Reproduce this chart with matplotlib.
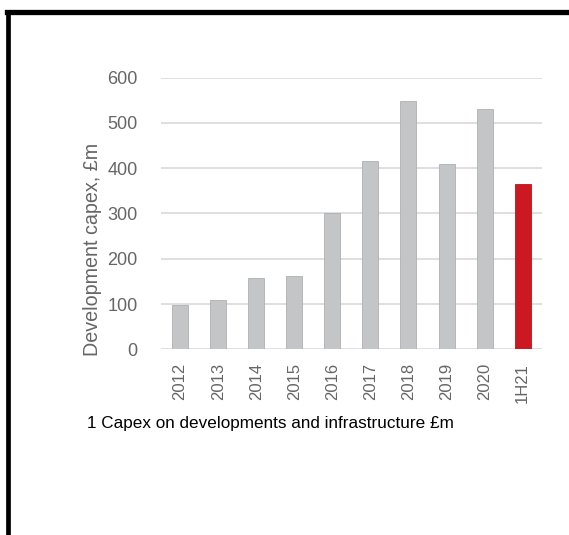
import matplotlib.pyplot as plt
from matplotlib.lines import Line2D

# Dados do gráfico
anos = ["2012", "2013", "2014", "2015", "2016", "2017", "2018", "2019", "2020", "1H21"]
capex = [98, 109, 157, 163, 300, 416, 548, 409, 530, 364]
cores = ["#c4c5c7"] * 9 + ["#cc1820"]
bordas = ["#aeafb1"] * 9 + ["#b8141b"]
ticks_y = [0, 100, 200, 300, 400, 500, 600]

plt.rcParams["font.family"] = ["Liberation Sans", "DejaVu Sans"]
cinza = "#666666"

fig = plt.figure(figsize=(5.69, 5.35), dpi=100)
ax = fig.add_axes([0.283, 0.347, 0.669, 0.508])

x = range(len(anos))
ax.bar(x, capex, width=0.42, color=cores, edgecolor=bordas, linewidth=0.6, zorder=3)

ax.set_xlim(-0.5, len(anos) - 0.5)
ax.set_ylim(0, 600)
ax.set_yticks(ticks_y)
ax.set_xticks(list(x))
ax.set_xticklabels(anos, rotation=90)
ax.tick_params(axis="y", length=0, pad=17, labelsize=13, labelcolor=cinza)
ax.tick_params(axis="x", length=0, pad=10, labelsize=12, labelcolor=cinza)
ax.grid(axis="y", color="#d9d9d9", linewidth=1.2, zorder=0)
ax.set_axisbelow(True)
for s in ax.spines.values():
    s.set_visible(False)

# Rótulo do eixo y (deslocado para baixo como no original)
ax.set_ylabel("Development capex, £m", fontsize=14.2, color=cinza)
ax.yaxis.set_label_coords(-0.155, 0.366)

# Legenda embaixo
fig.text(0.476, 0.208, "1 Capex on developments and infrastructure £m",
         ha="center", va="center", fontsize=12.3, color="black")

# Moldura preta (topo e esquerda)
fig.add_artist(Line2D([0.0125, 1.0], [0.978, 0.978], color="black", linewidth=3.8,
                      transform=fig.transFigure, solid_capstyle="projecting"))
fig.add_artist(Line2D([0.0141, 0.0141], [0.0, 0.978], color="black", linewidth=3.4,
                      transform=fig.transFigure, solid_capstyle="butt"))

fig.savefig("out.png", dpi=100)
